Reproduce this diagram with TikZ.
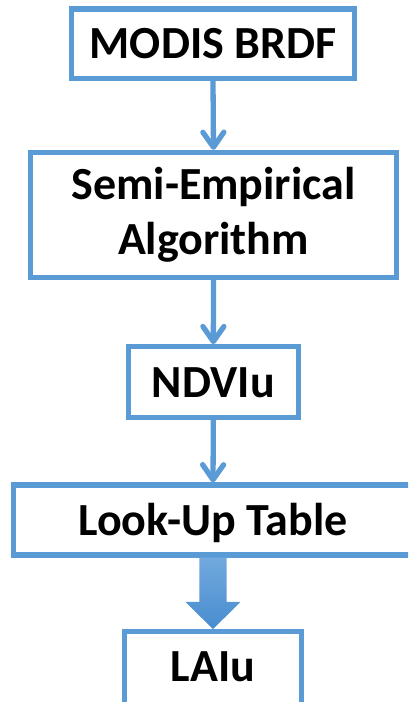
\documentclass[tikz,border=0pt]{standalone}
\usepackage{fontspec}
\setmainfont{Carlito}
\usetikzlibrary{arrows.meta,calc}
\definecolor{boxblue}{RGB}{91,155,213}
\definecolor{arrtop}{RGB}{114,169,222}
\definecolor{arrbot}{RGB}{72,140,207}
\begin{document}
\begin{tikzpicture}[x=1pt,y=-1pt,
  box/.style={draw=boxblue, line width=5.3pt, fill=white, rectangle, inner sep=0pt,
    font=\fontsize{46}{55}\selectfont\bfseries, text=black},
  one/.style={text height=30pt, text depth=0pt},
  flow/.style={draw=boxblue, line width=5.3pt,
    -{Straight Barb[length=15pt, width=21pt, round]}}]
\useasboundingbox (0,0) rectangle (408,702);
\clip (0,0) rectangle (408,702);
\node[box, one, minimum width=283pt, minimum height=69.5pt] (b1) at (213,43.75) {MODIS BRDF};
\node[box, align=center, minimum width=366pt, minimum height=125pt] (b2) at (213.5,215) {Semi-Empirical\\Algorithm};
\node[box, one, minimum width=169.7pt, minimum height=70.7pt] (b3) at (213.35,382.15) {NDVIu};
\node[box, one, minimum width=399pt, minimum height=70pt] (b4) at (213,520) {Look-Up Table};
\node[box, text height=30pt, text depth=4.4pt, minimum width=177pt, minimum height=74.2pt] (b5) at (213,668.9) {LAIu};
\draw[flow] (b1.south) -- (b2.north);
\draw[flow] (b2.south) -- (b3.north);
\draw[flow] (b3.south) -- (b4.north);
\shade[top color=arrtop, bottom color=arrbot]
  ($(b4.south)+(-13.7,0)$) -- ($(b4.south)+(13.7,0)$)
  -- ($(b4.south)!0.62!(b5.north)+(13.7,0)$) -- ($(b4.south)!0.62!(b5.north)+(27.4,0)$)
  -- (b5.north) -- ($(b4.south)!0.62!(b5.north)+(-27.4,0)$)
  -- ($(b4.south)!0.62!(b5.north)+(-13.7,0)$) -- cycle;
\end{tikzpicture}
\end{document}
